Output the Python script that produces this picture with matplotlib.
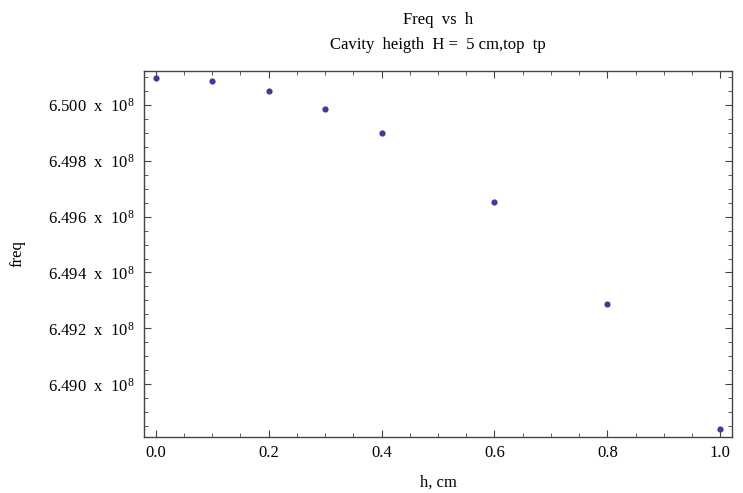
import numpy as np
import matplotlib
matplotlib.use("Agg")
import matplotlib.pyplot as plt
from matplotlib.ticker import MultipleLocator, FuncFormatter

# data
h = [0.0, 0.1, 0.2, 0.3, 0.4, 0.6, 0.8, 1.0]
freq = [6.50095e8, 6.50086e8, 6.50050e8, 6.49984e8, 6.49898e8, 6.49653e8, 6.49289e8, 6.48839e8]

title = "Freq  vs  h\nCavity  heigth  H =  5 cm,top  tp"
xlabel = "h, cm"
ylabel = "freq"

plt.rcParams['font.family'] = ['Liberation Serif', 'DejaVu Serif']
plt.rcParams['mathtext.fontset'] = 'custom'
plt.rcParams['mathtext.rm'] = 'Liberation Serif'
plt.rcParams['mathtext.it'] = 'Liberation Serif:italic'

fig = plt.figure(figsize=(7.43, 4.93), dpi=100)
ax = fig.add_axes([0.1942, 0.1146, 0.9848 - 0.1942, 0.856 - 0.1146])

ax.scatter(h, freq, s=20, color='#3d3d99', zorder=3, linewidths=0)

# 2% padding like Mathematica
xr = max(h) - min(h)
yr = max(freq) - min(freq)
ax.set_xlim(min(h) - 0.02 * xr, max(h) + 0.02 * xr)
ax.set_ylim(min(freq) - 0.02 * yr, max(freq) + 0.02 * yr)

ax.xaxis.set_major_locator(MultipleLocator(0.2))
ax.xaxis.set_minor_locator(MultipleLocator(0.05))
ax.yaxis.set_major_locator(MultipleLocator(0.002e8))
ax.yaxis.set_minor_locator(MultipleLocator(0.0005e8))

ax.xaxis.set_major_formatter(FuncFormatter(lambda v, p: f"{v:.1f}"))
ax.yaxis.set_major_formatter(FuncFormatter(lambda v, p: f"{v/1e8:.3f}  x  $10^{{8}}$"))

ax.tick_params(which='both', direction='in', top=True, right=True,
               labelsize=12, colors='#444444', labelcolor='black')
ax.tick_params(which='major', length=5, width=0.8)
ax.tick_params(which='minor', length=3, width=0.6)
ax.tick_params(axis='y', pad=7)
ax.tick_params(axis='x', pad=6)

for sp in ax.spines.values():
    sp.set_color('#444444')
    sp.set_linewidth(1.0)

ax.set_xlabel(xlabel, fontsize=12, labelpad=10)
ax.set_ylabel(ylabel, fontsize=12, labelpad=16)
ax.set_title(title, fontsize=12, pad=16, linespacing=1.7)

fig.savefig("out.png", dpi=100)
